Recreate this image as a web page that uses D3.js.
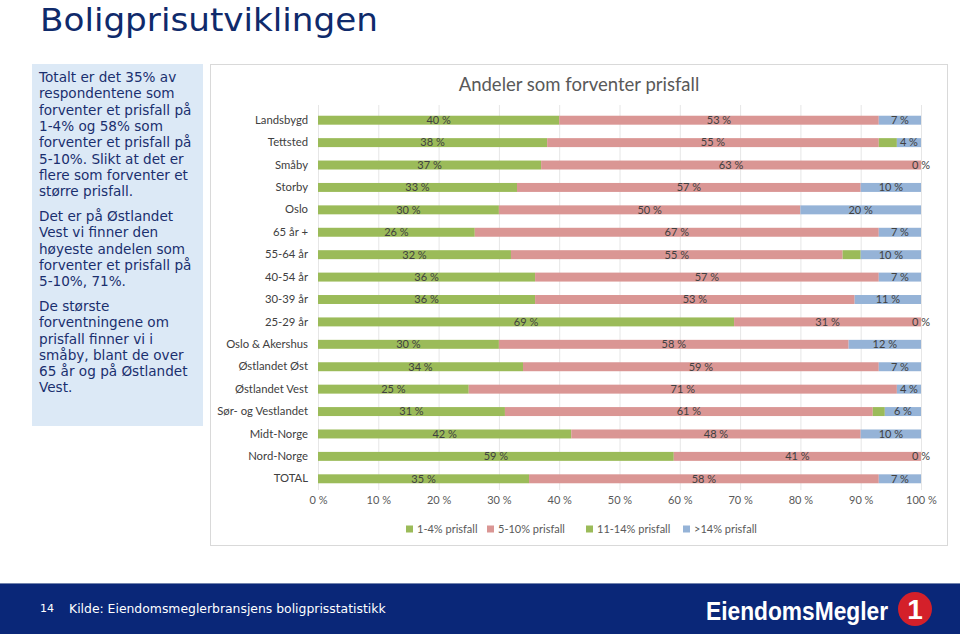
<!DOCTYPE html>
<html><head><meta charset="utf-8">
<script src="https://cdn.jsdelivr.net/npm/d3@7"></script>
<style>body{margin:0;background:#fff;}svg{display:block;}</style>
</head><body>
<svg id="c" width="960" height="634"></svg>
<script>
const categories = ["Landsbygd","Tettsted","Småby","Storby","Oslo","65 år +","55-64 år","40-54 år","30-39 år","25-29 år","Oslo & Akershus","Østlandet Øst","Østlandet Vest","Sør- og Vestlandet","Midt-Norge","Nord-Norge","TOTAL"];
const seriesNames = ["1-4% prisfall","5-10% prisfall","11-14% prisfall",">14% prisfall"];
const s1 = [40,38,37,33,30,26,32,36,36,69,30,34,25,31,42,59,35];
const s2 = [53,55,63,57,50,67,55,57,53,31,58,59,71,61,48,41,58];
const s3 = [0,3,0,0,0,0,3,0,0,0,0,0,0,2,0,0,0];
const s4 = [7,4,0,10,20,7,10,7,11,0,12,7,4,6,10,0,7];
const xTicks = [0,10,20,30,40,50,60,70,80,90,100];
const textParas = [
 ["Totalt er det 35% av","respondentene som","forventer et prisfall på","1-4% og 58% som","forventer et prisfall på","5-10%. Slikt at det er","flere som forventer et","større prisfall."],
 ["Det er på Østlandet","Vest vi finner den","høyeste andelen som","forventer et prisfall på","5-10%, 71%."],
 ["De største","forventningene om","prisfall finner vi i","småby, blant de over","65 år og på Østlandet","Vest."]
];
const colors = ["#9bbb59","#da9694","#9bbb59","#95b3d7"];
const showLabel = [true,true,false,true];

const svg = d3.select("#c");
const chartFont = "Lato, 'Open Sans', sans-serif";

// Title
svg.append("text").attr("x",40).attr("y",31).attr("font-family","'DejaVu Sans', Verdana, sans-serif")
  .attr("font-size",32.5).attr("fill","#0f2a6b").attr("textLength",338).attr("lengthAdjust","spacingAndGlyphs")
  .text("Boligprisutviklingen");

// Left text box
svg.append("rect").attr("x",32).attr("y",64).attr("width",171).attr("height",362).attr("fill","#dce9f6");
let ty = 82;
textParas.forEach((p,pi)=>{
  p.forEach(line=>{
    svg.append("text").attr("x",39).attr("y",ty).attr("font-family","'DejaVu Sans', Verdana, sans-serif")
      .attr("font-size",13.6).attr("fill","#1a2f6e").text(line);
    ty += 16.3;
  });
  ty += 8.5;
});

// Chart panel
svg.append("rect").attr("x",210.5).attr("y",64.5).attr("width",737).attr("height",481).attr("fill","#fff").attr("stroke","#d9d9d9");
svg.append("text").attr("x",579).attr("y",91).attr("text-anchor","middle").attr("font-family",chartFont)
  .attr("font-size",18.5).attr("fill","#595959").text("Andeler som forventer prisfall");

const x = d3.scaleLinear().domain([0,100]).range([318,921]);
const y = d3.scaleBand().domain(categories).range([109,490]).paddingInner(0.6).paddingOuter(0.3);

// gridlines
svg.append("g").selectAll("line").data(xTicks).join("line")
  .attr("x1",d=>x(d)+0.5).attr("x2",d=>x(d)+0.5).attr("y1",105).attr("y2",490)
  .attr("stroke","#e6e6e6").attr("stroke-width",1);

// x axis labels
const xAxis = d3.axisBottom(x).tickValues(xTicks).tickFormat(d=>d+" %").tickSize(0).tickPadding(0);
const gx = svg.append("g").attr("transform","translate(0,496)").call(xAxis);
gx.select(".domain").remove();
gx.selectAll("text").attr("font-family",chartFont).attr("font-size",11).attr("fill","#595959").attr("dy","0.71em");

// y axis labels
const yAxis = d3.axisLeft(y).tickSize(0).tickPadding(10);
const gy = svg.append("g").attr("transform","translate(318,0)").call(yAxis);
gy.select(".domain").remove();
gy.selectAll("text").attr("font-family",chartFont).attr("font-size",11.3).attr("fill","#404040");

// stacked data
const rows = categories.map((c,i)=>({cat:c, v:[s1[i],s2[i],s3[i],s4[i]]}));
const segs = [];
rows.forEach(r=>{
  let acc=0;
  r.v.forEach((v,k)=>{ segs.push({cat:r.cat,k,x0:acc,x1:acc+v,v}); acc+=v; });
});
svg.append("g").selectAll("rect").data(segs.filter(d=>d.v>0)).join("rect")
  .attr("x",d=>x(d.x0)).attr("width",d=>x(d.x1)-x(d.x0))
  .attr("y",d=>y(d.cat)).attr("height",y.bandwidth())
  .attr("fill",d=>colors[d.k]);

svg.append("g").selectAll("text").data(segs.filter(d=>showLabel[d.k])).join("text")
  .attr("x",d=>x((d.x0+d.x1)/2)).attr("y",d=>y(d.cat)+y.bandwidth()/2)
  .attr("dy","0.35em").attr("text-anchor","middle")
  .attr("font-family",chartFont).attr("font-size",11).attr("fill","#404040")
  .text(d=>d.v+" %");

// legend
const legX = [409,490,589,686];
const lg = svg.append("g").selectAll("g").data(seriesNames).join("g")
  .attr("transform",(d,i)=>`translate(${legX[i]},529)`);
lg.append("rect").attr("x",-3).attr("y",-3.5).attr("width",7).attr("height",7).attr("fill",(d,i)=>colors[i]);
lg.append("text").attr("x",8).attr("dy","0.35em").attr("font-family",chartFont).attr("font-size",11)
  .attr("fill","#595959").text(d=>d);

// footer
svg.append("rect").attr("x",0).attr("y",583).attr("width",960).attr("height",51).attr("fill","#0a2778");
svg.append("line").attr("x1",0).attr("x2",960).attr("y1",583.5).attr("y2",583.5).attr("stroke","#7183ad");
svg.append("text").attr("x",40).attr("y",612).attr("font-family","'DejaVu Sans', Verdana, sans-serif")
  .attr("font-size",11).attr("fill","#fff").text("14");
svg.append("text").attr("x",69).attr("y",613).attr("font-family","'DejaVu Sans', Verdana, sans-serif")
  .attr("font-size",12.4).attr("fill","#fff").text("Kilde: Eiendomsmeglerbransjens boligprisstatistikk");
svg.append("text").attr("x",706).attr("y",620).attr("font-family","'Liberation Sans', Arial, sans-serif")
  .attr("font-size",25).attr("font-weight","bold").attr("fill","#fff").attr("textLength",182).attr("lengthAdjust","spacingAndGlyphs")
  .text("EiendomsMegler");
svg.append("circle").attr("cx",915).attr("cy",609).attr("r",17).attr("fill","#d4202a");
svg.append("text").attr("x",915).attr("y",619).attr("text-anchor","middle").attr("font-family","'Liberation Sans', Arial, sans-serif")
  .attr("font-weight","bold").attr("font-size",28).attr("fill","#fff").text("1");
</script>
</body></html>
